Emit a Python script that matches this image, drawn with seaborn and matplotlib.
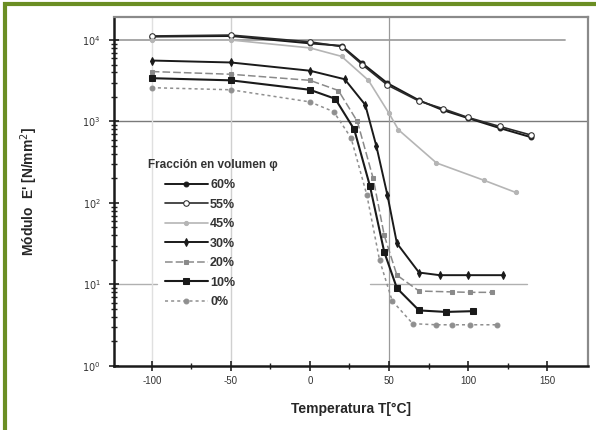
import numpy as np
import pandas as pd
import matplotlib
matplotlib.use("Agg")
import matplotlib.pyplot as plt
import matplotlib.patches as mpatches
import seaborn as sns

# Storage modulus E' (N/mm^2) versus temperature for several fibre volume fractions
labels = ["60%", "55%", "45%", "30%", "20%", "10%", "0%"]

t_60 = [-100, -50, 0, 20, 33, 49, 69, 84, 100, 120, 140]
e_60 = [11000, 11200, 9100, 8500, 5200, 2950, 1820, 1380, 1100, 830, 640]

t_55 = [-100, -50, 0, 20, 33, 49, 69, 84, 100, 120, 140]
e_55 = [11200, 11500, 9500, 8300, 5000, 2800, 1780, 1440, 1120, 870, 680]

t_45 = [-100, -50, 0, 20, 37, 50, 56, 80, 110, 130]
e_45 = [10000, 10000, 8000, 6300, 3200, 1260, 790, 310, 190, 135]

t_30 = [-100, -50, 0, 22, 35, 42, 49, 55, 69, 82, 100, 122]
e_30 = [5600, 5300, 4200, 3300, 1600, 500, 125, 32, 14, 13, 13, 13]

t_20 = [-100, -50, 0, 18, 30, 40, 47, 55, 69, 90, 101, 115]
e_20 = [4100, 3800, 3200, 2400, 1000, 200, 40, 13, 8.3, 8.1, 8.0, 8.0]

t_10 = [-100, -50, 0, 16, 28, 38, 47, 55, 69, 86, 103]
e_10 = [3400, 3200, 2450, 1900, 800, 160, 25, 9, 4.8, 4.6, 4.7]

t_0 = [-100, -50, 0, 15, 26, 36, 44, 52, 65, 80, 90, 101, 118]
e_0 = [2600, 2450, 1740, 1320, 630, 125, 20, 6.3, 3.3, 3.2, 3.2, 3.2, 3.2]

x_ticks = [-100, -50, 0, 50, 100, 150]
y_ticks = [1, 10, 100, 1000, 10000]
y_tick_labels = [r"$10^0$", r"$10^1$", r"$10^2$", r"$10^3$", r"$10^4$"]

series_t = [t_60, t_55, t_45, t_30, t_20, t_10, t_0]
series_e = [e_60, e_55, e_45, e_30, e_20, e_10, e_0]

frames = []
for lab, t, e in zip(labels, series_t, series_e):
    frames.append(pd.DataFrame({"T": t, "E": e, "frac": lab}))
df = pd.concat(frames, ignore_index=True)

sns.set_theme(style="white")
plt.rcParams["font.family"] = ["Liberation Sans", "DejaVu Sans"]

fig = plt.figure(figsize=(5.96, 4.30), dpi=100)
ax = fig.add_axes([0.191, 0.149, 0.796, 0.811])

styles = {
    "60%": dict(color="#1a1a1a", marker="o", mfc="#1a1a1a", ms=3.5, ls="-", lw=1.4),
    "55%": dict(color="#2a2a2a", marker="o", mfc="white", ms=4, ls="-", lw=1.2),
    "45%": dict(color="#b5b5b5", marker="o", mfc="#b5b5b5", ms=3, ls="-", lw=1.2),
    "30%": dict(color="#1a1a1a", marker="d", mfc="#1a1a1a", ms=4, ls="-", lw=1.4),
    "20%": dict(color="#8a8a8a", marker="s", mfc="#8a8a8a", ms=3.5, ls=(0, (5, 2)), lw=1.1),
    "10%": dict(color="#1a1a1a", marker="s", mfc="#1a1a1a", ms=4, ls="-", lw=1.5),
    "0%": dict(color="#8f8f8f", marker="o", mfc="#8f8f8f", ms=3.5, ls=(0, (2, 2)), lw=1.1),
}

for lab in labels:
    st = styles[lab]
    sub = df[df["frac"] == lab]
    sns.lineplot(data=sub, x="T", y="E", ax=ax, sort=False, estimator=None,
                 color=st["color"], marker=st["marker"], markersize=st["ms"],
                 markerfacecolor=st["mfc"], markeredgecolor=st["color"],
                 linestyle=st["ls"], linewidth=st["lw"], label=lab)

# reference lines across the plot area
ax.axhline(10000, color="#a0a0a0", lw=1.3, xmin=0.0, xmax=0.95, zorder=0)
ax.axhline(1000, color="#7a7a7a", lw=1.0, zorder=0)
ax.axhline(10, color="#b0b0b0", lw=1.0, xmin=0.0, xmax=0.09, zorder=0)
ax.axhline(10, color="#b0b0b0", lw=1.0, xmin=0.54, xmax=0.87, zorder=0)
ax.axvline(-100, color="#e0e0e0", lw=1.0, zorder=0)
ax.axvline(-50, color="#d0d0d0", lw=1.0, zorder=0)
ax.axvline(50, color="#9a9a9a", lw=0.9, zorder=0)

ax.set_yscale("log")
ax.set_ylim(1, 10 ** 4.28)
ax.set_xlim(-124, 176)
ax.set_xticks(x_ticks)
ax.set_xticklabels([str(v) for v in x_ticks], fontsize=7, color="#333333")
ax.set_xticks([-75, -25, 25, 75, 125], minor=True)
ax.set_yticks(y_ticks)
ax.set_yticklabels(y_tick_labels, fontsize=7, color="#333333")
ax.tick_params(axis="both", which="major", direction="inout", length=7, width=1.2,
               color="#222222", left=True, bottom=True)
ax.tick_params(axis="both", which="minor", direction="inout", length=4, width=1.0,
               color="#222222", left=True, bottom=True)
ax.tick_params(axis="y", which="major", pad=6)

for side in ["left", "bottom"]:
    ax.spines[side].set_color("#1a1a1a")
    ax.spines[side].set_linewidth(1.8)
for side in ["top", "right"]:
    ax.spines[side].set_color("#8a8a8a")
    ax.spines[side].set_linewidth(1.6)

ax.set_xlabel("Temperatura T[°C]", fontsize=10, fontweight="bold", labelpad=12)
ax.set_ylabel("Módulo  E' [N/mm$^2$]", fontsize=10, fontweight="bold", labelpad=30)

# legend title placed as its own text, entries indented beneath it
ax.text(0.072, 0.576, "Fracción en volumen φ", transform=ax.transAxes,
        fontsize=8.5, fontweight="bold", color="#333333", va="center", ha="left")
leg = ax.legend(loc="upper left", bbox_to_anchor=(0.108, 0.535), frameon=False,
                fontsize=9, handlelength=3.4, labelspacing=0.6,
                handletextpad=0.2, borderaxespad=0, borderpad=0)
for txt in leg.get_texts():
    txt.set_fontweight("bold")
    txt.set_color("#333333")

# olive frame around the figure
fig.patches.append(mpatches.Rectangle((0.0085, -0.05), 1.2, 1.04, transform=fig.transFigure,
                                      fill=False, edgecolor="#6b8e23", linewidth=3))

fig.savefig("out.png", dpi=100)
